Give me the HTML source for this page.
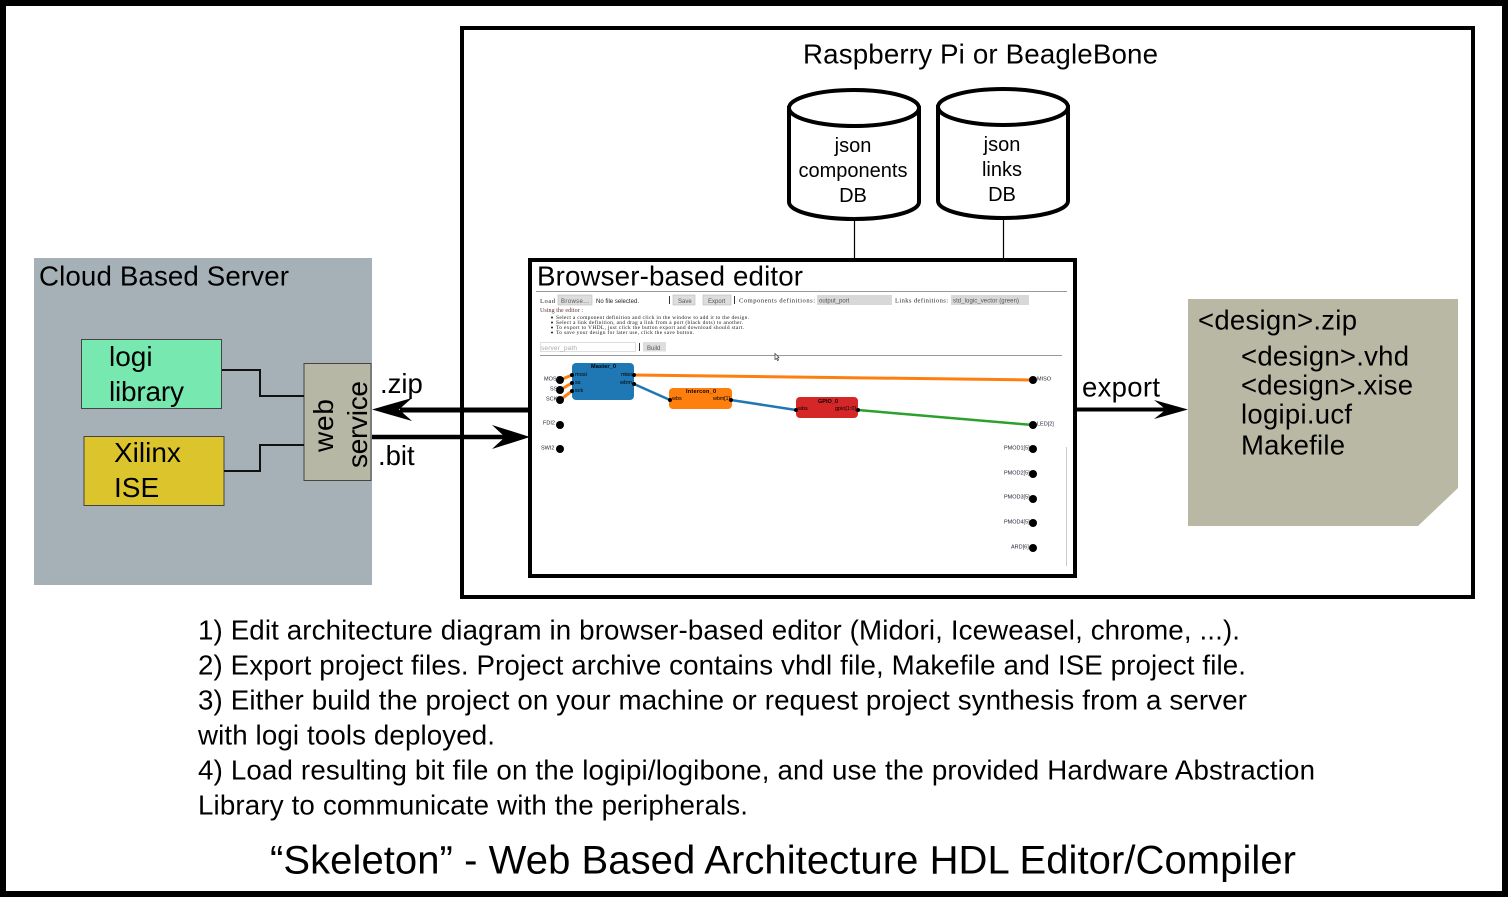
<!DOCTYPE html>
<html><head><meta charset="utf-8"><style>
html,body{margin:0;padding:0;background:#fff}
svg{display:block}
text{font-family:"Liberation Sans",sans-serif}
text.s{font-family:"Liberation Serif",serif}
.t{font-size:5.500px;fill:#223}
</style></head><body>
<svg xmlns="http://www.w3.org/2000/svg" width="1508" height="897" viewBox="0 0 1508 897">
<rect width="1508" height="897" fill="#fff"/>
<rect x="3" y="3" width="1502" height="891" fill="none" stroke="#000" stroke-width="6"/>
<rect x="462" y="28" width="1011" height="569" fill="none" stroke="#000" stroke-width="4"/>
<text x="803" y="63.500" font-size="27.700" textLength="355">Raspberry Pi or BeagleBone</text>

<!-- cylinders -->
<g fill="#fff" stroke="#000" stroke-width="4">
<path d="M789 108V202C789 212 820 219 854 219S919 212 919 202V108Z"/>
<ellipse cx="854" cy="108" rx="65" ry="18"/>
<path d="M938 107V201C938 211 969 218 1003 218S1068 211 1068 201V107Z"/>
<ellipse cx="1003" cy="107" rx="65" ry="18"/>
</g>
<g font-size="20" text-anchor="middle">
<text x="853" y="152">json</text><text x="853" y="177" textLength="109">components</text><text x="853" y="202">DB</text>
<text x="1002" y="151">json</text><text x="1002" y="176">links</text><text x="1002" y="201">DB</text>
</g>
<path d="M854.500 220V260M1003.500 220V260" stroke="#000" stroke-width="1.200"/>

<!-- editor -->
<rect x="530" y="260" width="545" height="316" fill="#fff" stroke="#000" stroke-width="4"/>
<text x="537" y="285.500" font-size="27.700" textLength="266">Browser-based editor</text>
<g style="filter:blur(.3px)">
<path d="M536 291.500H1067M540 355.500H1062" stroke="#999" stroke-width="1"/>
<path d="M1066.500 447V566" stroke="#ccc" stroke-width="1"/>
<g font-size="6.500" fill="#222">
<text class="s" x="540" y="303" textLength="15">Load</text>
<rect x="558" y="295" width="34" height="10" fill="#ddd" stroke="#bbb" stroke-width=".6"/>
<text x="561" y="303" font-size="6" fill="#555" textLength="28">Browse...</text>
<text x="596" y="303" font-size="6" textLength="43">No file selected.</text>
<path d="M669.500 296V304M734.500 296V304M639.500 343V351" stroke="#333" stroke-width="1"/>
<rect x="673" y="295" width="22" height="10" fill="#ddd" stroke="#bbb" stroke-width=".6"/>
<text x="678" y="303" font-size="6" fill="#555">Save</text>
<rect x="703" y="295" width="28" height="10" fill="#ddd" stroke="#bbb" stroke-width=".6"/>
<text x="708" y="303" font-size="6" fill="#555">Export</text>
<text class="s" x="739" y="302.500" textLength="76">Components definitions:</text>
<rect x="817" y="295" width="75" height="10" fill="#d8d8d8"/>
<text x="819" y="302.500" font-size="6" fill="#555">output_port</text>
<text class="s" x="895" y="302.500" textLength="53">Links definitions:</text>
<rect x="951" y="295" width="78" height="10" fill="#d8d8d8"/>
<text x="953" y="302.500" font-size="6" fill="#555" textLength="66">std_logic_vector (green)</text>
<text class="s" x="540" y="312" font-size="6" fill="#633" textLength="43">Using the editor :</text>
<g font-size="5.500">
<text class="s" x="556" y="319" textLength="193">Select a component definition and click in the window to add it to the design.</text>
<text class="s" x="556" y="324" textLength="187">Select a link definition, and drag a link from a port (black dots) to another.</text>
<text class="s" x="556" y="329" textLength="188">To export to VHDL, just click the button export and download should start.</text>
<text class="s" x="556" y="334" textLength="138">To save your design for later use, click the save button.</text>
</g>
<g fill="#222"><circle cx="552" cy="317.500" r="1"/><circle cx="552" cy="322.500" r="1"/><circle cx="552" cy="327.500" r="1"/><circle cx="552" cy="332.500" r="1"/></g>
<rect x="540.500" y="342.500" width="95" height="9" fill="#fff" stroke="#ddd"/>
<text x="541" y="350" font-size="6.500" fill="#aaa" textLength="36">server_path</text>
<rect x="643" y="342" width="23" height="9.500" fill="#ddd"/>
<text x="647" y="350" font-size="6" fill="#555">Build</text>
</g>
<path d="M775 353.500l4 4-1.500.5 1 2-1 .5-1-2-1.500 1Z" fill="#fff" stroke="#333" stroke-width=".7"/>

<!-- canvas links -->
<g fill="none" stroke-width="3" stroke="#ff7f0e">
<path d="M634 375L1033 380M560 380L572 375M560 390L572 383M560 400L572 391"/>
</g>
<g fill="none" stroke-width="2.500" stroke="#1f77b4"><path d="M634 384L670 400M731 400L796 410"/></g>
<path d="M858 410L1033 425" stroke="#2ca02c" stroke-width="2.500" fill="none"/>
<rect x="572" y="363" width="62" height="37" rx="4" fill="#1f77b4"/>
<rect x="669" y="388" width="63" height="21" rx="4" fill="#ff7f0e"/>
<rect x="796" y="397" width="62" height="21" rx="4" fill="#d62728"/>
<g font-size="5.500" fill="#000">
<text x="591" y="368" font-weight="bold" textLength="25">Master_0</text>
<text x="686" y="393" font-weight="bold" textLength="30">Intercon_0</text>
<text x="818" y="403" font-weight="bold" textLength="20">GPIO_0</text>
<text x="575" y="376" textLength="12">mosi</text><text x="575" y="384">ss</text><text x="575" y="392">sck</text>
<text x="621" y="376" textLength="11">miso</text><text x="620" y="384" textLength="12">wbm</text>
<text x="672" y="400">wbs</text><text x="713" y="400" textLength="17">wbm[1]</text>
<text x="798" y="410">wbs</text><text x="835" y="410" textLength="21">gpio[1:0]</text>
</g>
<g fill="#000">
<circle cx="572" cy="375" r="2"/><circle cx="572" cy="383" r="2"/><circle cx="572" cy="391" r="2"/>
<circle cx="634" cy="375" r="2"/><circle cx="634" cy="384" r="2"/>
<circle cx="670" cy="400" r="2"/><circle cx="731" cy="400" r="2"/>
<circle cx="796" cy="410" r="2"/><circle cx="858" cy="410" r="2"/>
<circle cx="560" cy="380" r="4"/><circle cx="560" cy="390" r="4"/><circle cx="560" cy="400" r="4"/><circle cx="560" cy="425" r="4"/><circle cx="560" cy="449" r="4"/>
<circle cx="1033" cy="380" r="4"/><circle cx="1033" cy="425" r="4"/><circle cx="1033" cy="449" r="4"/><circle cx="1033" cy="474" r="4"/><circle cx="1033" cy="499" r="4"/><circle cx="1033" cy="523" r="4"/><circle cx="1033" cy="548" r="4"/>
</g>
<g>
<text class="t" x="544" y="380.500">MOSI</text><text class="t" x="550" y="390.500">SS</text><text class="t" x="546" y="400.500">SCK</text><text class="t" x="543" y="424.500">FDI2</text><text class="t" x="541" y="449.500">SWI2</text>
<text class="t" x="1037" y="380.500">MISO</text><text class="t" x="1037" y="425.500">LED[2]</text>
<text class="t" x="1004" y="449.500">PMOD1[5]</text><text class="t" x="1004" y="474.500">PMOD2[5]</text><text class="t" x="1004" y="498.500">PMOD3[5]</text><text class="t" x="1004" y="523.500">PMOD4[5]</text><text class="t" x="1011" y="548.500">ARD[6]</text>
</g>
</g>

<!-- Cloud -->
<rect x="34" y="258" width="338" height="327" fill="#a5b1b7"/>
<text x="39" y="285.500" font-size="27.700" textLength="250">Cloud Based Server</text>
<rect x="81.500" y="339.500" width="140" height="69" fill="#77e8b0" stroke="#444" stroke-width="1"/>
<text x="109" y="366" font-size="28">logi</text><text x="109" y="401" font-size="28" textLength="75">library</text>
<rect x="84" y="436.500" width="140" height="69" fill="#dcc52c" stroke="#444" stroke-width="1"/>
<text x="114" y="462" font-size="28">Xilinx</text><text x="114" y="497" font-size="28">ISE</text>
<rect x="304" y="363.500" width="67" height="117" fill="#b7b7a5" stroke="#444" stroke-width="1"/>
<path d="M222 370H260V396H304M224 471H260V445H304" fill="none" stroke="#111" stroke-width="2"/>
<text transform="translate(333,452) rotate(-90)" font-size="28" textLength="53">web</text>
<text transform="translate(367,468) rotate(-90)" font-size="28" textLength="87">service</text>

<!-- arrows -->
<path d="M400 410H530" stroke="#000" stroke-width="5"/>
<path d="M372 409.500L412 398L399 409.500L412 421Z" fill="#000"/>
<path d="M372 437H505" stroke="#000" stroke-width="4.500"/>
<path d="M530 437L492 425L505 437L492 449Z" fill="#000"/>
<path d="M1076 409.500H1170" stroke="#000" stroke-width="4"/>
<path d="M1188 409.500L1154 400L1166 409.500L1154 419Z" fill="#000"/>
<text x="380" y="393" font-size="27.500">.zip</text>
<text x="378" y="465" font-size="27.500">.bit</text>
<text x="1082" y="396.500" font-size="27.500" textLength="78">export</text>

<!-- doc -->
<path d="M1188 299H1458V488L1418 526H1188Z" fill="#b9b8a5"/>
<g font-size="27.500">
<text x="1198" y="329.500" textLength="159">&lt;design&gt;.zip</text>
<text x="1241" y="365.500" textLength="168">&lt;design&gt;.vhd</text>
<text x="1241" y="394.500" textLength="172">&lt;design&gt;.xise</text>
<text x="1241" y="423.500" textLength="111">logipi.ucf</text>
<text x="1241" y="454.500" textLength="104">Makefile</text>
</g>

<!-- text -->
<g font-size="27.700">
<text x="198" y="639.500" textLength="1042">1) Edit architecture diagram in browser-based editor (Midori, Iceweasel, chrome, ...).</text>
<text x="198" y="674.500" textLength="1048">2) Export project files. Project archive contains vhdl file, Makefile and ISE project file.</text>
<text x="198" y="709.500" textLength="1049">3) Either build the project on your machine or request project synthesis from a server</text>
<text x="198" y="744.500" textLength="297">with logi tools deployed.</text>
<text x="198" y="779.500" textLength="1117">4) Load resulting bit file on the logipi/logibone, and use the provided Hardware Abstraction</text>
<text x="198" y="814.500" textLength="550">Library to communicate with the peripherals.</text>
</g>
<text x="270" y="873.500" font-size="40" textLength="1026">“Skeleton” - Web Based Architecture HDL Editor/Compiler</text>
</svg>
</body></html>
